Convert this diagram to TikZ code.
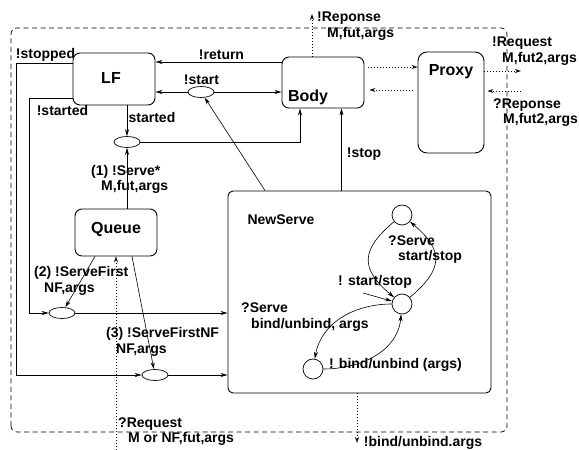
\documentclass[tikz,border=0pt]{standalone}
\usepackage{fontspec}
\setmainfont{Liberation Sans}
\usetikzlibrary{arrows.meta,shapes.geometric}
\tikzset{
  box/.style={draw, rounded corners=7pt, line width=0.9pt},
  ell/.style={draw, ellipse, minimum width=26pt, minimum height=11pt, inner sep=0pt, line width=0.7pt},
  stnode/.style={draw, circle, minimum size=20pt, inner sep=0pt, line width=0.7pt},
  boxname/.style={font=\fontsize{16}{18}\selectfont\bfseries, inner sep=0pt},
  lbl/.style={font=\fontsize{14}{15.5}\selectfont\bfseries, inner sep=0pt, align=left},
  arr/.style={-{Stealth[length=7pt,width=4pt]}, line width=0.6pt},
  dotarr/.style={-{Stealth[open,length=6pt,width=4pt]}, line width=0.6pt, dash pattern=on 1pt off 2pt},
  frame/.style={line width=0.7pt, dash pattern=on 5pt off 3.5pt, rounded corners=6pt}
}
\newcommand{\lblind}{\hspace*{10pt}}

\begin{document}
\begin{tikzpicture}[x=1pt,y=1pt]
\useasboundingbox (0,0) rectangle (579,450);
\draw[frame] (11,18) rectangle (507,422);

\node[box, minimum width=82pt, minimum height=52pt] (lf) at (114,371) {};
\node[box, minimum width=82pt, minimum height=51pt] (body) at (323,367.5) {};
\node[box, minimum width=66pt, minimum height=101pt, rounded corners=9pt] (proxy) at (451,347.5) {};
\node[box, minimum width=82pt, minimum height=47pt] (queue) at (116,217.5) {};
\node[box, minimum width=263pt, minimum height=202pt, rounded corners=5pt] (newserve) at (359.5,158) {};

\node[boxname] (lfname) at (111,372) {LF};
\node[boxname] (bodyname) at (308,353) {Body};
\node[boxname] (proxyname) at (451,378) {Proxy};
\node[boxname] (queuename) at (116,221) {Queue};
\node[lbl] (nsname) at (281,230) {NewServe};

\node[ell] (estart) at (201,358) {};
\node[ell] (estarted) at (127,308) {};
\node[ell] (efirst) at (62,137) {};
\node[ell] (efirstnf) at (155,75) {};

\node[stnode] (ctop) at (402,235) {};
\node[stnode] (cmid) at (402,146) {};
\node[stnode] (cbot) at (313,81) {};

\coordinate (repout) at (312,436);
\coordinate (reqout) at (521,379);
\coordinate (repin) at (521,359);
\coordinate (reqin) at (116,0);
\coordinate (bindout) at (357,7);
\coordinate (ssin) at (363,157);

\draw[arr] ([yshift=20.5pt]body.west) -- ([yshift=17pt]lf.east);
\draw[arr] (estart.west) -- ([yshift=-13pt]lf.east);
\draw[arr] (estart.east) -- ([yshift=-9.5pt]body.west);
\draw[arr] (estarted |- lf.south) -- (estarted.north);
\draw[arr] (estarted.east) -| ([xshift=-23pt]body.south);
\draw[arr] (estarted |- queue.north) -- (estarted.south);
\draw[arr] ([xshift=-94.5pt]newserve.north) -- (estart);
\draw[arr] ([xshift=-18pt]newserve.north) -- ([xshift=18.5pt]body.south);
\draw[arr] ([yshift=16pt]lf.west) -- ++(-56,0) |- (efirstnf.west);
\draw[arr] (efirstnf.east) -- (efirstnf -| newserve.west);
\draw[arr] ([yshift=-19pt]lf.west) -- ++(-43,0) |- (efirst.west);
\draw[arr] (efirst.east) -- (efirst -| newserve.west);
\draw[arr] ([xshift=-21pt]queue.south) -- (efirst);
\draw[arr] ([xshift=16pt]queue.south) -- (efirstnf);

\draw[dotarr] (reqin) -- (queue.south);
\draw[dotarr] ([xshift=-2.5pt]newserve.south) -- (bindout);
\draw[dotarr] ([xshift=-11pt]body.north) -- (repout);
\draw[dotarr, shorten <=4pt] ([yshift=15.5pt]body.east) -- ([yshift=35.5pt]proxy.west);
\draw[dotarr, shorten <=5pt, shorten >=5pt] ([yshift=12.5pt]proxy.west) -- ([yshift=-7.5pt]body.east);
\draw[dotarr] ([yshift=31.5pt]proxy.east) -- (reqout);
\draw[dotarr, shorten >=3pt] (repin) -- ([yshift=11.5pt]proxy.east);

\draw[arr] (ctop) to[out=220,in=140,looseness=1.5] (cmid);
\draw[arr] (ssin) -- (cmid);
\draw[arr] (cmid) to[out=40,in=-40,looseness=1.5] (ctop);
\draw[arr] (cmid) to[out=180,in=80] (cbot);
\draw[arr] (cbot) to[out=0,in=265] (cmid);

\node[lbl] (lstopped) at (45.5,395) {!stopped};
\node[lbl] (lstarted) at (62.5,340) {!started};
\node[lbl] (lreturn) at (221.5,395) {!return};
\node[lbl] (lstart) at (201.5,370) {!start};
\node[lbl] (lstartedin) at (152,333) {started};
\node[lbl, anchor=west] (lserve) at (91,270.5) {(1) !Serve*\\\lblind M,fut,args};
\node[lbl, anchor=west] (lrepout) at (317,424) {!Reponse\\\lblind M,fut,args};
\node[lbl, anchor=west] (lreqout) at (492,399) {!Request\\\lblind M,fut2,args};
\node[lbl, anchor=west] (lrepin) at (493,337.5) {?Reponse\\\lblind M,fut2,args};
\node[lbl] (lstop) at (364,296) {!stop};
\node[lbl, anchor=west] (lfirst) at (34,169) {(2) !ServeFirst\\\lblind NF,args};
\node[lbl, anchor=west] (lfirstnf) at (106,108) {(3) !ServeFirstNF\\\lblind NF,args};
\node[lbl, anchor=west] (lreqin) at (118,18.5) {?Request\\\lblind M or NF,fut,args};
\node[lbl] (lbindout) at (423,7) {!bind/unbind.args};
\node[lbl, anchor=west] (lservess) at (388,200.5) {?Serve\\\lblind start/stop};
\node[lbl] (lss) at (375,168) {! start/stop};
\node[lbl, anchor=west] (lservebind) at (241,133) {?Serve\\\lblind bind/unbind, args};
\node[lbl] (lbindargs) at (395.5,85) {! bind/unbind (args)};
\end{tikzpicture}
\end{document}
